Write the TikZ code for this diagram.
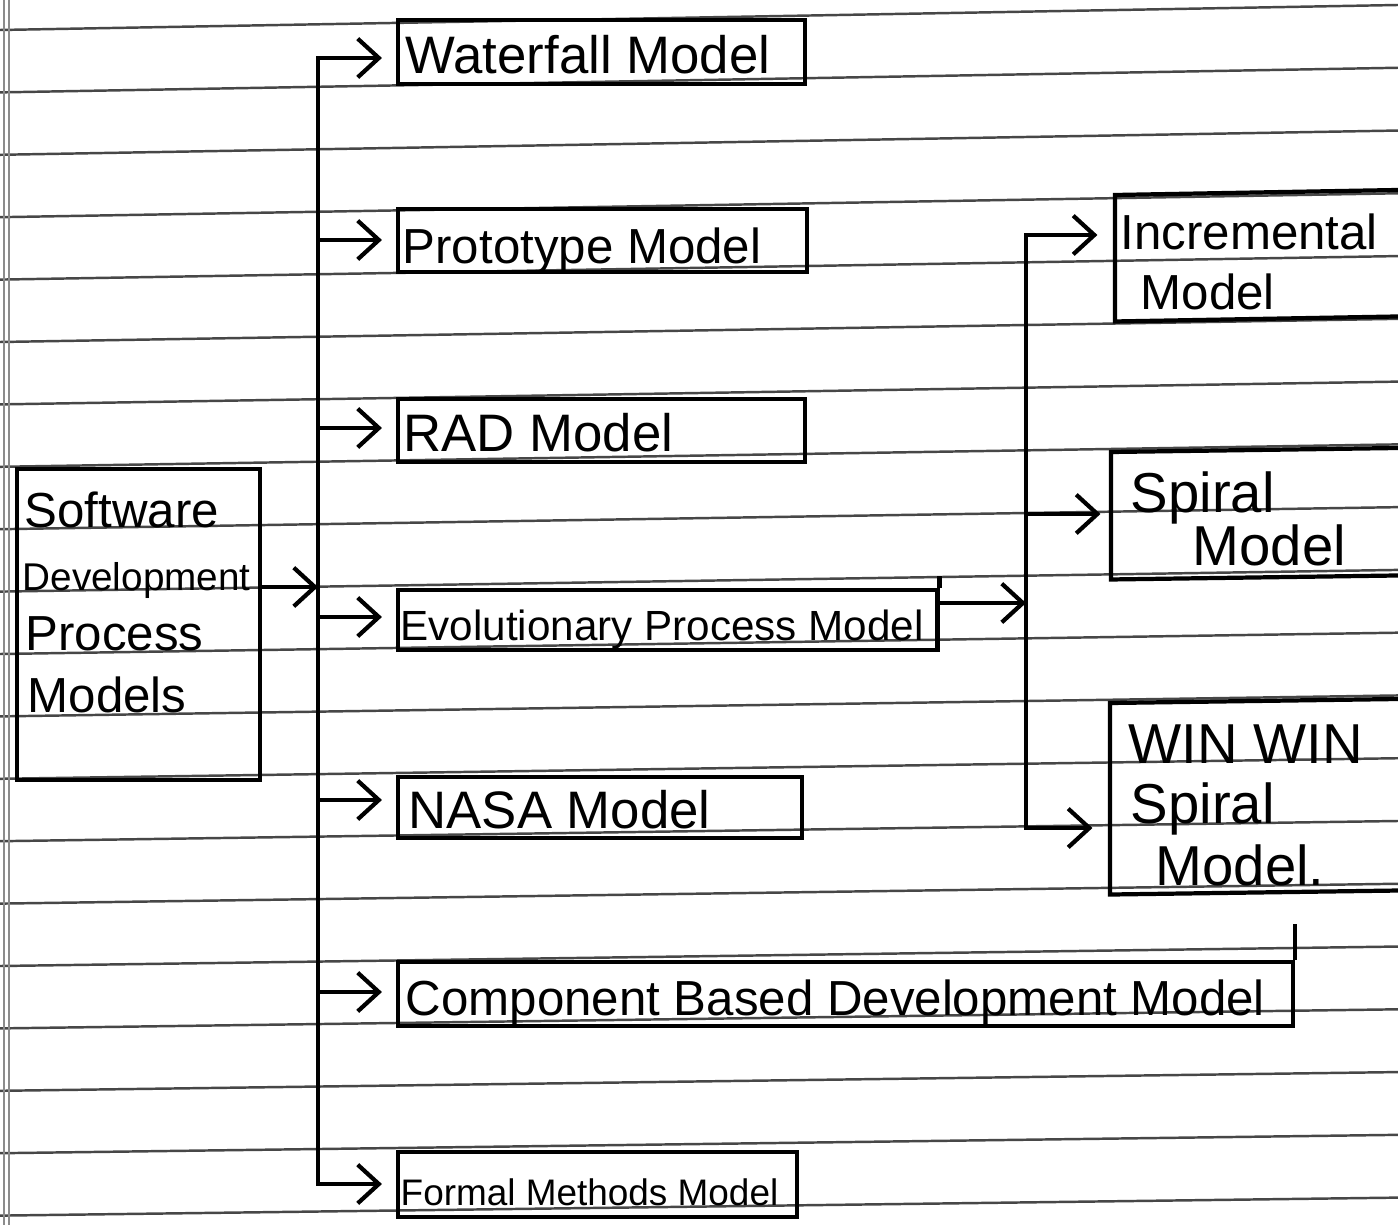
\documentclass[tikz,border=0pt]{standalone}
\usepackage{fontspec}
\setmainfont{Liberation Sans}
\usetikzlibrary{arrows.meta}
\begin{document}
\begin{tikzpicture}[x=0.01cm,y=-0.01cm,
  rule/.style={draw=black!72, line width=0.7pt},
  margin/.style={draw=black!45, line width=0.5pt},
  box/.style={draw, line width=1.2pt, anchor=north west, inner sep=0pt},
  openbox/.style={anchor=north west, inner sep=0pt},
  edge3/.style={line width=1.2pt, line join=miter},
  wire/.style={line width=1.2pt, line cap=rect},
  conn/.style={wire, -{Straight Barb[length=6pt,width=11pt]}},
  hand/.style={anchor=base west, inner sep=0pt, text=black},
  fs/.style={font=\fontsize{#1}{#1}\selectfont},
]
\useasboundingbox[fill=white] (0,0) rectangle (1398,1225);

% ruled notebook paper (lines rise slightly to the right)
\foreach \k in {0,...,19}{
  \draw[rule] (0,{30+62.4*\k}) -- (1398,{30+62.4*\k-25+7*\k/19});
}
\draw[margin] (4,0) -- (4,1225);
\draw[margin] (9,0) -- (9,1225);

% boxes
\node[box, minimum width=2.43cm, minimum height=3.11cm] (sdpm) at (15,467) {};
\node[box, minimum width=4.07cm, minimum height=0.64cm] (wf)   at (396,18)  {};
\node[box, minimum width=4.09cm, minimum height=0.63cm] (pt)   at (396,207) {};
\node[box, minimum width=4.07cm, minimum height=0.63cm] (rad)  at (396,397) {};
\node[box, minimum width=5.39cm, minimum height=0.60cm] (evo)  at (396,588) {};
\node[box, minimum width=4.04cm, minimum height=0.61cm] (nasa) at (396,775) {};
\node[box, minimum width=8.94cm, minimum height=0.64cm] (cbd)  at (396,960) {};
\node[box, minimum width=3.99cm, minimum height=0.65cm] (fm)   at (396,1150) {};

% stray pen strokes above two right edges
\draw[line width=1.2pt] (evo.north east) -- ++(0,-12);
\draw[line width=1.2pt] (cbd.north east) -- ++(0,-36);

% boxes running off the right edge of the page, drawn along the ruling
\node[openbox, minimum width=2.83cm, minimum height=1.25cm] (inc) at (1115,195) {};
\node[openbox, minimum width=2.87cm, minimum height=1.26cm] (sp)  at (1111,452) {};
\node[openbox, minimum width=2.88cm, minimum height=1.90cm] (ww)  at (1110,703) {};
\draw[edge3] (inc.north west) ++(283,-5) -- (inc.north west) -- (inc.south west) -- ++(283,-5);
\draw[edge3] (sp.north west)  ++(287,-4) -- (sp.north west)  -- (sp.south west)  -- ++(287,-4);
\draw[edge3] (ww.north west)  ++(288,-4) -- (ww.north west)  -- (ww.south west)  -- ++(288,-4);

% handwritten labels
\node[hand, fs=14] (sdpm1) at (24,527) {Software};
\node[hand, fs=11] (sdpm2) at (22,590) {Development};
\node[hand, fs=14] (sdpm3) at (25,650) {Process};
\node[hand, fs=14] (sdpm4) at (27,712) {Models};

\node[hand, fs=15] (wf-t)   at (405,74)   {Waterfall Model};
\node[hand, fs=14] (pt-t)   at (402,264)  {Prototype Model};
\node[hand, fs=15] (rad-t)  at (403,452)  {RAD Model};
\node[hand, fs=12] (evo-t)  at (400,640)  {Evolutionary Process Model};
\node[hand, fs=15] (nasa-t) at (408,828)  {NASA Model};
\node[hand, fs=14] (cbd-t)  at (405,1015) {Component Based Development Model};
\node[hand, fs=10.5] (fm-t) at (400,1205) {Formal Methods Model};

\node[hand, fs=14] (inc1) at (1120,250) {Incremental};
\node[hand, fs=14] (inc2) at (1140,310) {Model};
\node[hand, fs=16] (sp1)  at (1130,512) {Spiral};
\node[hand, fs=16] (sp2)  at (1192,565) {Model};
\node[hand, fs=16] (ww1)  at (1128,763) {WIN WIN};
\node[hand, fs=16] (ww2)  at (1130,823) {Spiral};
\node[hand, fs=16] (ww3)  at (1155,885) {Model.};

% main trunk and its branches
\coordinate (jtop) at (318,58);
\coordinate (jbot) at (318,1184);
\coordinate (jin)  at (318,587);
\coordinate (jpt)  at (318,240);
\coordinate (jrad) at (318,428);
\coordinate (jevo) at (318,617);
\coordinate (jnasa) at (318,800);
\coordinate (jcbd) at (318,992);

\draw[wire] (jtop) -- (jbot);
\draw[conn] (sdpm.east |- jin) -- (jin);
\foreach \j/\b in {jtop/wf, jpt/pt, jrad/rad, jevo/evo, jnasa/nasa, jcbd/cbd, jbot/fm}{
  \draw[conn, shorten >=4pt] (\j) -- (\j -| \b.west);
}

% second trunk fed by the evolutionary model
\coordinate (ktop) at (1026,235);
\coordinate (kin)  at (1026,603);
\coordinate (ksp)  at (1026,514);
\coordinate (kbot) at (1026,828);

\draw[wire] (ktop) -- (kbot);
\draw[conn] (evo.east |- kin) -- (kin);
\draw[conn, shorten >=5pt] (ktop) -- (ktop -| inc.west);
\draw[conn, shorten >=3pt] (ksp) -- (ksp -| sp.west);
\draw[conn, shorten >=5pt] (kbot) -- (kbot -| ww.west);
\end{tikzpicture}
\end{document}
